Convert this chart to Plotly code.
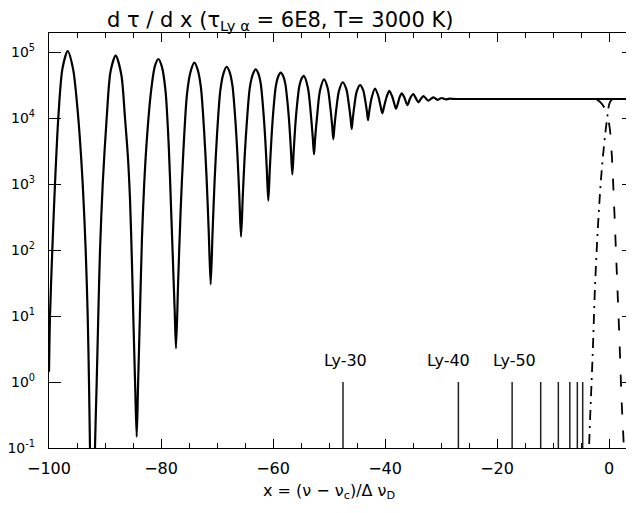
import plotly.graph_objects as go

# ---- data ----
curve_x = [-100.0, -99.82, -99.41, -98.93, -98.34, -97.6, -96.66, -95.7, -94.77, -93.98,
           -93.45, -93.09, -92.86, -92.68, -92.23, -91.79, -91.48, -91.2, -90.89, -90.41,
           -89.7, -89.0, -88.09, -87.1, -86.43, -85.9, -85.54, -85.2, -84.9, -84.6,
           -84.34, -84.1, -83.8, -83.4, -83.0, -82.5, -81.8, -81.1, -80.48, -79.85,
           -79.2, -78.6, -78.2, -77.8, -77.55, -77.32, -76.93, -76.5, -76.01, -75.36,
           -74.7, -74.05, -73.47, -72.88, -72.30, -71.86, -71.48, -71.13, -70.79, -70.42,
           -69.99, -69.41, -68.84, -68.27, -67.76, -67.25, -66.73, -66.35, -66.02, -65.71,
           -65.40, -65.06, -64.66, -64.14, -63.61, -63.09, -62.64, -62.19, -61.74, -61.40,
           -61.11, -60.84, -60.58, -60.29, -59.96, -59.51, -59.07, -58.63, -58.21, -57.80,
           -57.38, -57.07, -56.80, -56.55, -56.30, -56.04, -55.73, -55.32, -54.91, -54.5,
           -53.77, -53.23, -52.90, -52.68, -52.47, -52.14, -51.61, -50.89, -50.23, -49.73,
           -49.43, -49.23, -49.03, -48.73, -48.22, -47.55, -46.91, -46.43, -46.14, -45.95,
           -45.77, -45.50, -45.06, -44.46, -43.89, -43.47, -43.21, -43.04, -42.85, -42.4,
           -41.79, -41.2, -40.75, -40.48, -40.2, -39.7, -39.23, -38.7, -38.3, -38.04,
           -37.75, -37.4, -37.02, -36.55, -36.0, -35.5, -34.95, -34.5, -34.05, -33.6,
           -33.16, -32.7, -32.27, -31.8, -31.37, -30.95, -30.6, -30.2, -29.85, -29.45,
           -29.1, -28.7, -28.35, -27.9, -27.0, -15.0, 0.0, 4.46]
curve_y = [1.43, 10, 100, 1000, 1.0e4, 5.6e4, 1.03e5, 5.5e4, 1.0e4, 1000,
           100, 10, 1, 0.1, 0.0005, 0.1, 1, 10, 100, 1000,
           1.0e4, 5.1e4, 8.8e4, 4.6e4, 1.0e4, 2500, 600, 70, 7, 0.8,
           0.148, 0.87, 7.9, 150, 1000, 5100, 2.45e4, 6.07e4, 7.84e4, 6.0e4,
           2.62e4, 3500, 420, 46, 11.5, 3.24, 35, 390, 3100, 2.3e4,
           5.1e4, 6.89e4, 5.46e4, 2.94e4, 6300, 1240, 193, 30.2, 187, 1160,
           5700, 2.6e4, 4.76e4, 5.98e4, 5.0e4, 3.12e4, 9500, 2740, 659, 159,
           645, 2620, 8950, 2.88e4, 4.59e4, 5.47e4, 4.76e4, 3.3e4, 1.32e4, 5050,
           1680, 559, 1630, 4760, 1.22e4, 2.98e4, 4.26e4, 4.86e4, 4.38e4, 3.29e4,
           1.62e4, 7700, 3280, 1400, 3190, 7300, 1.5e4, 2.98e4, 3.92e4, 4.35e4,
           2.88e4, 1.11e4, 5100, 2820, 5000, 1.04e4, 2.61e4, 3.86e4, 2.82e4, 1.36e4,
           7550, 4760, 7400, 1.29e4, 2.58e4, 3.48e4, 2.73e4, 1.54e4, 9750, 6810,
           9500, 1.47e4, 2.51e4, 3.16e4, 2.63e4, 1.71e4, 1.22e4, 9300, 1.2e4, 2.0e4,
           2.8e4, 2.15e4, 1.45e4, 1.18e4, 1.45e4, 2.1e4, 2.59e4, 2.1e4, 1.6e4, 1.38e4,
           1.6e4, 2.05e4, 2.37e4, 2.05e4, 1.57e4, 2.0e4, 2.31e4, 2.0e4, 1.73e4, 1.95e4,
           2.15e4, 1.98e4, 1.83e4, 1.95e4, 2.06e4, 1.96e4, 1.88e4, 1.96e4, 2.01e4, 1.95e4,
           1.91e4, 1.95e4, 1.97e4, 1.945e4, 1.94e4, 1.94e4, 1.94e4, 1.94e4]

dashdot_x = [-3.72, -3.57, -3.39, -2.91, -2.50, -1.91, -1.30, -0.41, 0.18, 0.7]
dashdot_y = [0.05, 0.1, 0.265, 2.75, 27.8, 285, 1630, 8800, 1.75e4, 1.94e4]

dashed_x = [-2.3, -1.35, -0.63, 0.05, 0.48, 0.89, 1.37, 1.84, 2.27, 2.55, 2.75]
dashed_y = [1.94e4, 1.67e4, 1.32e4, 7800, 2900, 510, 50, 4.85, 0.475, 0.157, 0.06]

ly_line_x = [-47.5, -26.9, -17.3, -12.2, -9.05, -7.0, -5.66, -4.7]
ly_line_bottom = 0.1
ly_line_top = 1.0
ly_labels = ["Ly-30", "Ly-40", "Ly-50"]
ly_label_x = [-47.05, -28.7, -16.9]

y_tickvals = [0.1, 1, 10, 100, 1000, 1e4, 1e5]
y_ticktext = ["10<sup>-1</sup>", "10<sup>0</sup>", "10<sup>1</sup>", "10<sup>2</sup>",
              "10<sup>3</sup>", "10<sup>4</sup>", "10<sup>5</sup>"]
x_tickvals = [-100, -80, -60, -40, -20, 0]

FONT = "DejaVu Sans"

fig = go.Figure()

# marker lines
vx, vy = [], []
for v in ly_line_x:
    vx += [v, v, None]
    vy += [ly_line_bottom, ly_line_top, None]
fig.add_trace(go.Scatter(x=vx, y=vy, mode="lines",
                         line=dict(color="#222222", width=1.5), hoverinfo="skip"))

fig.add_trace(go.Scatter(x=dashdot_x, y=dashdot_y, mode="lines",
                         line=dict(color="black", width=1.8, dash="10px,6px,2px,6px",
                                   shape="spline")))
fig.add_trace(go.Scatter(x=dashed_x, y=dashed_y, mode="lines",
                         line=dict(color="black", width=1.8, dash="12px,16px",
                                   shape="spline")))
fig.add_trace(go.Scatter(x=curve_x, y=curve_y, mode="lines",
                         line=dict(color="black", width=2.2, shape="spline", smoothing=0.8)))

for lab, lx in zip(ly_labels, ly_label_x):
    fig.add_annotation(x=lx, y=0.333, xref="x", yref="y", text=lab, showarrow=False,
                       font=dict(family=FONT, size=16, color="black"),
                       xanchor="center", yanchor="middle")

# title
fig.add_annotation(x=(280 - 49) / 585, y=(448 - 21) / 415, xref="paper", yref="paper",
                   text="d τ / d x (τ<sub>Ly α</sub> = 6E8, T= 3000 K)", showarrow=False,
                   font=dict(family=FONT, size=21, color="black"),
                   xanchor="center", yanchor="middle")
# x-axis title
fig.add_annotation(x=(329 - 49) / 585, y=(448 - 491) / 415, xref="paper", yref="paper",
                   text="x = (ν − ν<sub>c</sub>)/Δ ν<sub>D</sub>", showarrow=False,
                   font=dict(family=FONT, size=16, color="black"),
                   xanchor="center", yanchor="middle")

# page body has an 8px margin: figure is sized/offset so the plot area sits at
# x 49..634, y 33..448 in the browser window
fig.update_layout(
    width=626, height=505,
    margin=dict(l=41, r=0, t=25, b=65, autoexpand=False),
    paper_bgcolor="white", plot_bgcolor="white",
    showlegend=False,
    font=dict(family=FONT, size=16, color="black"),
    xaxis=dict(range=[-100, 4.46], tickvals=x_tickvals, ticks="inside", ticklen=9,
               tickwidth=1.2, tickcolor="black", showline=True, linecolor="black",
               linewidth=1.3, mirror="ticks", showgrid=False, zeroline=False,
               ticklabelstandoff=6, automargin=False,
               minor=dict(ticks="inside", ticklen=4.5, dtick=5, tick0=0,
                          tickcolor="black", tickwidth=1.2, showgrid=False),
               tickfont=dict(family=FONT, size=16, color="black")),
    yaxis=dict(type="log", range=[-1, 5.288], tickvals=y_tickvals, ticktext=y_ticktext,
               ticks="inside", ticklen=12, tickwidth=1.2, tickcolor="black",
               showline=True, linecolor="black", linewidth=1.3, mirror="ticks",
               showgrid=False, zeroline=False, ticklabelstandoff=10, automargin=False,
               tickfont=dict(family=FONT, size=14, color="black")),
)

fig.write_html("out.html")
